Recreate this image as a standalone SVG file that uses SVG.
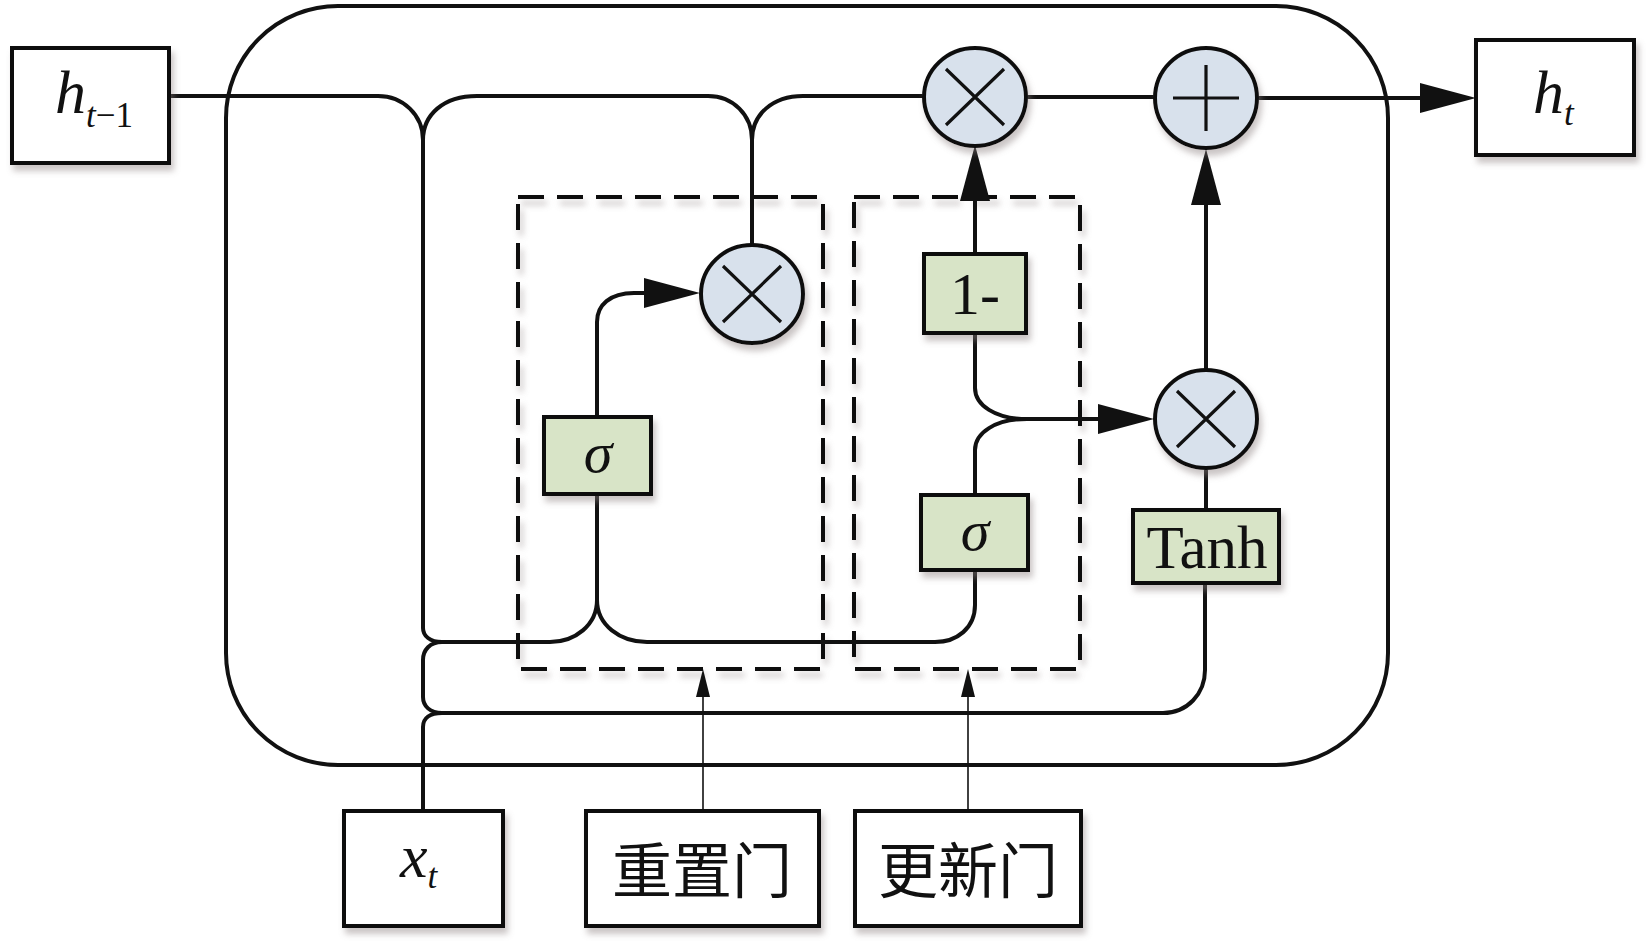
<svg xmlns="http://www.w3.org/2000/svg" width="1647" height="944" viewBox="0 0 1647 944">
<style>
.ln{fill:none;stroke:#111;stroke-width:4;}
.thin{fill:none;stroke:#111;stroke-width:1.6;}
.box{fill:#fff;stroke:#111;stroke-width:4;filter:url(#sh);}
.g{fill:#d8e4c7;stroke:#111;stroke-width:4;filter:url(#sh);}
.c{fill:#d8e1ec;stroke:#111;stroke-width:4;filter:url(#sh);}
.op{fill:none;stroke:#111;stroke-width:3.2;}
.dash{fill:none;stroke:#111;stroke-width:4;stroke-dasharray:26 13;filter:url(#sh);}
.m{font-family:"Liberation Serif","DejaVu Serif",serif;fill:#111;}
.cjk{font-family:"Noto Sans CJK SC",sans-serif;fill:#111;font-size:60px;}
</style>
<defs>
<filter id="sh" x="-10%" y="-10%" width="130%" height="130%">
<feDropShadow dx="3" dy="6" stdDeviation="3" flood-color="#8a7f7f" flood-opacity="0.45"/>
</filter>
<marker id="ar" viewBox="0 0 56 30" refX="46" refY="15" markerWidth="56" markerHeight="30" markerUnits="userSpaceOnUse" orient="auto">
<path d="M0,0 L56,15 L0,30 z" fill="#111"/>
</marker>
<marker id="as" viewBox="0 0 28 14" refX="22" refY="7" markerWidth="28" markerHeight="14" markerUnits="userSpaceOnUse" orient="auto">
<path d="M0,0 L28,7 L0,14 z" fill="#111"/>
</marker>
</defs>

<g id="cell">
<rect x="226" y="6" width="1162" height="759" rx="112" ry="112" class="ln"/>
</g>
<g id="reset-gate-area"><rect x="518" y="197" width="305" height="472" class="dash"/></g>
<g id="update-gate-area"><rect x="854" y="197" width="226" height="472" class="dash"/></g>

<g id="connectors">
<path class="ln" d="M169,96 H378 C403,96 423,115 423,140 V628 C423,636 430,642 442,642 H550 C575,642 597,625 597,600 V494"/>
<path class="ln" d="M597,600 C597,625 620,642 647,642 H935 C957,642 975,628 975,605 V570"/>
<path class="ln" d="M442,642 C430,642 423,650 423,660 V697 C423,706 430,713 442,713 H1163 C1187,713 1205,694 1205,670 V583"/>
<path class="ln" d="M423,811 V727 C423,718 430,713 442,713"/>
<path class="ln" d="M423,140 C423,115 443,96 477,96 H708 C733,96 752,115 752,140 V245"/>
<path class="ln" d="M752,140 C752,115 772,96 803,96 H924"/>
<path class="ln" d="M1026,97 H1155"/>
<path class="ln" d="M1257,98 H1466" marker-end="url(#ar)"/>
<path class="ln" d="M975,254 V155" marker-end="url(#ar)"/>
<path class="ln" d="M1206,370 V159" marker-end="url(#ar)"/>
<path class="ln" d="M1206,510 V467"/>
<path class="ln" d="M597,417 V322 C597,305 610,293 634,293 H690" marker-end="url(#ar)"/>
<path class="ln" d="M975,333 V388 C975,405 995,419 1027,419 H1144" marker-end="url(#ar)"/>
<path class="ln" d="M975,495 V450 C975,433 995,419 1027,419"/>
<path class="thin" d="M703,811 V675" marker-end="url(#as)"/>
<path class="thin" d="M968,811 V675" marker-end="url(#as)"/>
</g>

<g id="h-prev">
<rect x="12" y="48" width="157" height="115" class="box"/>
<text x="55" y="113" class="m" font-size="62"><tspan font-style="italic">h</tspan><tspan font-size="35" dy="14" font-style="italic">t</tspan><tspan font-size="35">−1</tspan></text>
</g>
<g id="h-t">
<rect x="1476" y="40" width="158" height="115" class="box"/>
<text x="1533" y="113" class="m" font-size="62" font-style="italic">h<tspan font-size="35" dy="12">t</tspan></text>
</g>
<g id="x-t">
<rect x="344" y="811" width="159" height="115" class="box"/>
<text x="400" y="877" class="m" font-size="62" font-style="italic">x<tspan font-size="35" dy="11">t</tspan></text>
</g>
<g id="reset-label">
<rect x="586" y="811" width="233" height="115" class="box"/>
<text x="702" y="893" class="cjk" text-anchor="middle">重置门</text>
</g>
<g id="update-label">
<rect x="855" y="811" width="226" height="115" class="box"/>
<text x="968" y="893" class="cjk" text-anchor="middle">更新门</text>
</g>

<g id="sigma-r">
<rect x="544" y="417" width="107" height="77" class="g"/>
<text x="598" y="472" class="m" font-size="58" font-style="italic" text-anchor="middle">σ</text>
</g>
<g id="one-minus">
<rect x="924" y="254" width="102" height="79" class="g"/>
<text x="975" y="314" class="m" font-size="60" text-anchor="middle">1-</text>
</g>
<g id="sigma-z">
<rect x="921" y="495" width="107" height="75" class="g"/>
<text x="975" y="550" class="m" font-size="58" font-style="italic" text-anchor="middle">σ</text>
</g>
<g id="tanh">
<rect x="1133" y="510" width="146" height="73" class="g"/>
<text x="1207" y="568" class="m" font-size="61" text-anchor="middle">Tanh</text>
</g>

<g id="mul-reset">
<ellipse cx="752" cy="294" rx="51" ry="49" class="c"/>
<path class="op" d="M723,266 L781,322 M781,266 L723,322"/>
</g>
<g id="mul-top">
<ellipse cx="975" cy="97" rx="51" ry="49" class="c"/>
<path class="op" d="M946,69 L1004,125 M1004,69 L946,125"/>
</g>
<g id="plus">
<ellipse cx="1206" cy="98" rx="51" ry="50" class="c"/>
<path class="op" d="M1173,98 H1239 M1206,65 V131"/>
</g>
<g id="mul-update">
<ellipse cx="1206" cy="419" rx="51" ry="49" class="c"/>
<path class="op" d="M1177,391 L1235,447 M1235,391 L1177,447"/>
</g>
</svg>
